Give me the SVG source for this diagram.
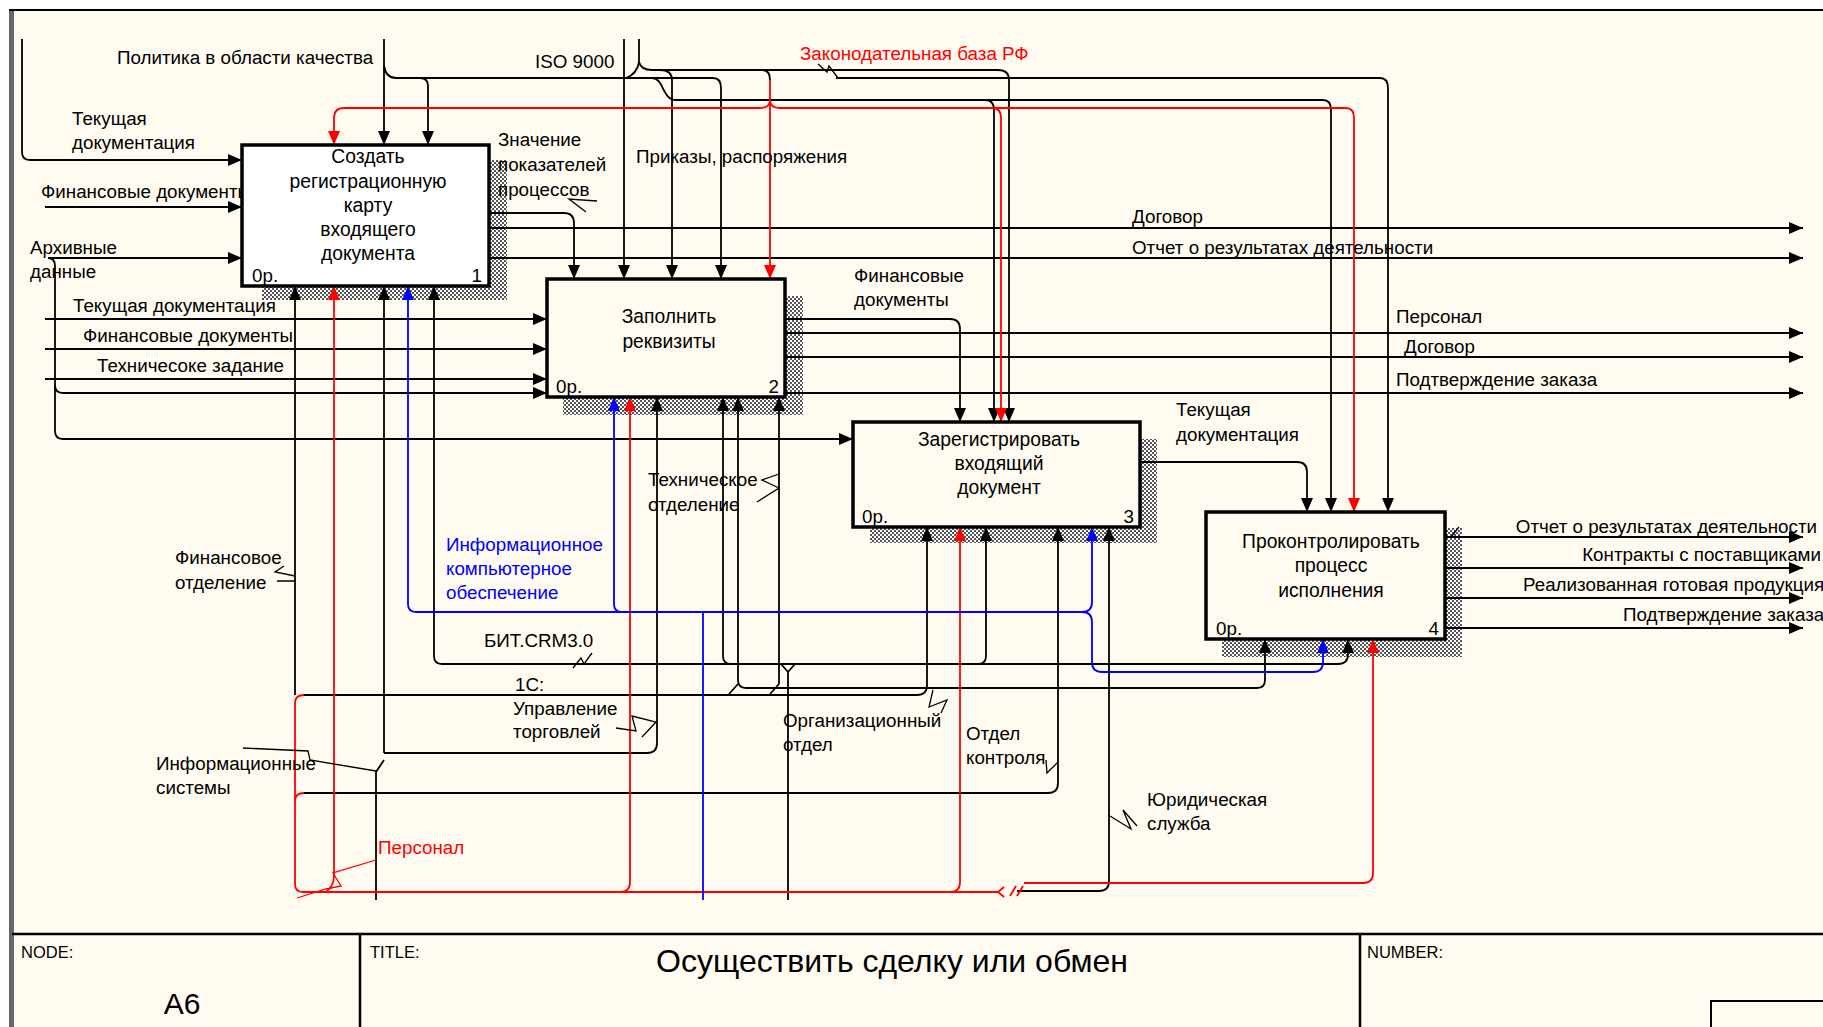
<svg xmlns="http://www.w3.org/2000/svg" width="1823" height="1027" viewBox="0 0 1823 1027">
<defs>
<style>
.l{fill:none;stroke:#000;stroke-width:1.8}
.r{stroke:#f00}
.u{stroke:#00f}
.s{fill:none;stroke:#000;stroke-width:1.3}
text{font-family:"Liberation Sans",Arial,sans-serif;font-size:18.8px;fill:#000}
.tr{fill:#f00}
.tu{fill:#00f}
.c{text-anchor:middle;font-size:19.3px}
.e{text-anchor:end}
.box{fill:#FFFBF0;stroke:#000;stroke-width:3.5}
.sh{fill:url(#hatch)}
.sm{font-size:16.5px}
</style>
<pattern id="hatch" width="4" height="4" patternUnits="userSpaceOnUse"><rect width="4" height="4" fill="#fff"/><rect width="2" height="2" fill="#555"/><rect x="2" y="2" width="2" height="2" fill="#555"/></pattern>
<marker id="ak" viewBox="0 0 14 12" refX="14" refY="6" markerWidth="14" markerHeight="12" markerUnits="userSpaceOnUse" orient="auto"><path d="M0,0L14,6L0,12z" fill="#000"/></marker>
<marker id="ar" viewBox="0 0 14 12" refX="14" refY="6" markerWidth="14" markerHeight="12" markerUnits="userSpaceOnUse" orient="auto"><path d="M0,0L14,6L0,12z" fill="#f00"/></marker>
<marker id="au" viewBox="0 0 14 12" refX="14" refY="6" markerWidth="14" markerHeight="12" markerUnits="userSpaceOnUse" orient="auto"><path d="M0,0L14,6L0,12z" fill="#00f"/></marker>
</defs>
<rect width="1823" height="1027" fill="#fff"/>
<rect x="12" y="10" width="1811" height="1017" fill="#FFFBF0"/>
<rect x="9" y="10" width="5" height="1017" fill="#666"/>
<line x1="9" y1="10" x2="1823" y2="10" stroke="#000" stroke-width="2"/>
<g id="title-block" fill="none" stroke="#000" stroke-width="2.5">
<line x1="12" y1="934" x2="1823" y2="934"/>
<line x1="360" y1="934" x2="360" y2="1027"/>
<line x1="1360" y1="934" x2="1360" y2="1027"/>
<path d="M1711,1027 V1001 H1823" stroke-width="2"/>
</g>
<text x="21" y="958" class="sm">NODE:</text>
<text x="370" y="958" class="sm">TITLE:</text>
<text x="1367" y="958" class="sm">NUMBER:</text>
<text x="182" y="1014" style="font-size:30px" text-anchor="middle">A6</text>
<text x="892" y="972" style="font-size:32px" text-anchor="middle">Осуществить сделку или обмен</text>

<g id="shadows">
<rect class="sh" x="489" y="160" width="18" height="140"/><rect class="sh" x="262" y="286" width="245" height="14"/>
<rect class="sh" x="785" y="296" width="18" height="119"/><rect class="sh" x="563" y="397" width="240" height="18"/>
<rect class="sh" x="1140" y="439" width="17" height="104"/><rect class="sh" x="870" y="527" width="287" height="16"/>
<rect class="sh" x="1445" y="528" width="17" height="129"/><rect class="sh" x="1222" y="639" width="240" height="18"/>
</g>

<g id="connectors">
<g class="l" marker-end="url(#ak)">
<path d="M22,39 V152 Q22,160 30,160 H242"/>
<path d="M45,207 H242"/>
<path d="M48,258 H242"/>
<path d="M48,258 Q55,258 55,266 V431 Q55,439 63,439 H853"/>
<path d="M55,385 Q55,393 63,393 H547"/>
<path d="M45,319 H547"/>
<path d="M45,349 H547"/>
<path d="M45,379 H547"/>
<path d="M384,39 V145"/>
<path d="M384,66 Q386,78 396,78 H713 Q721,78 721,88 V279"/>
<path d="M420,78 Q428,78 428,86 V145"/>
<path d="M624,39 V279"/>
<path d="M639,62 Q641,70 652,70 H998 Q1009,70 1009,80 V422"/>
<path d="M660,70 Q672,70 672,80 V279"/>
<path d="M652,78 C664,78 662,100 676,100 H1323 Q1331,100 1331,110 V512"/>
<path d="M985,100 Q994,100 994,110 V422"/>
<path d="M836,78 H1380 Q1388,78 1388,88 V512"/>
<path d="M489,213 H564 Q574,213 574,223 V279"/>
<path d="M489,228 H1803"/>
<path d="M489,258 H1803"/>
<path d="M785,319 H950 Q960,319 960,329 V422"/>
<path d="M785,333 H1803"/>
<path d="M785,357 H1803"/>
<path d="M785,393 H1803"/>
<path d="M1140,462 H1297 Q1307,462 1307,472 V512"/>
<path d="M1445,537 H1803"/>
<path d="M1445,568 H1803"/>
<path d="M1445,598 H1803"/>
<path d="M1445,628 H1803"/>
<path d="M295,695 V286"/>
<path d="M304,695 H917 Q927,695 927,685 V527"/>
<path d="M384,753 V286"/>
<path d="M384,753 H647 Q657,753 657,743 V397"/>
<path d="M442,664 Q434,664 434,656 V286"/>
<path d="M442,664 H1338 Q1348,664 1348,654 V639"/>
<path d="M731,664 Q723,664 723,656 V397"/>
<path d="M978,664 Q986,664 986,656 V527"/>
<path d="M746,688 Q738,688 738,680 V397"/>
<path d="M746,688 H1257 Q1265,688 1265,680 V639"/>
<path d="M779,684 V397"/>
<path d="M304,793 H1048 Q1058,793 1058,783 V527"/>
<path d="M1017,891 H1099 Q1109,891 1109,881 V527"/>
</g>
<g class="l">
<path d="M639,39 V62 Q637,74 626,78"/>
<path d="M762,70 Q770,70 770,80"/>
<path d="M376,900 V772 L384,760"/>
<path d="M788,900 V672 M781,664 L788,672 L795,664"/>
<path d="M738,684 L729,694 M779,684 L770,694"/>
</g>
<g class="l r" marker-end="url(#ar)">
<path d="M770,80 V279"/>
<path d="M770,100 Q770,108 760,108 H344 Q334,108 334,118 V145"/>
<path d="M770,100 Q770,108 780,108 H1346 Q1354,108 1354,118 V512"/>
<path d="M992,108 Q1001,108 1001,118 V422"/>
<path d="M326,892 Q334,886 334,876 V286"/>
<path d="M620,892 Q630,892 630,882 V397"/>
<path d="M950,892 Q960,892 960,882 V527"/>
<path d="M1024,883 H1363 Q1373,883 1373,873 V639"/>
</g>
<g class="l r">
<path d="M295,703 V884 Q295,892 303,892 H998"/>
<path d="M295,703 Q295,695 304,695 M295,801 Q295,793 304,793"/>
<path d="M1004,887 L998,892 L1004,897 M1010,896 L1016,886 M1017,896 L1023,886"/>
</g>
<g class="l u" marker-end="url(#au)">
<path d="M416,612 Q408,612 408,604 V286"/>
<path d="M622,612 Q614,612 614,604 V397"/>
<path d="M1082,612 Q1092,612 1092,602 V527"/>
<path d="M1082,612 Q1092,612 1092,622 V662 Q1092,672 1102,672 H1313 Q1323,672 1323,662 V639"/>
</g>
<g class="l u">
<path d="M416,612 H1082"/>
<path d="M703,900 V612"/>
</g>
<g class="s">
<path d="M818,64 L827,72 L829,66 L838,78"/>
<path d="M597,201 L569,199 L586,212"/>
<path d="M284,566 L275,572 L295,576 M277,581 L295,581"/>
<path d="M779,474 L762,480 L779,488 L757,502"/>
<path d="M573,668 L581,658 L584,664 L592,653"/>
<path d="M616,728 L636,731 L632,716 L656,722 L642,737"/>
<path d="M243,748 L308,751 L310,760 L376,771"/>
<path d="M933,690 L929,707 L947,700 L941,713"/>
<path d="M1046,760 L1047,773 L1058,762"/>
<path d="M1110,816 L1131,829 L1123,810 L1137,826"/>
<path d="M1451,537 L1459,527"/>
<path d="M376,860 L333,873 L341,886 L326,889 L297,898" stroke="#f00"/>
</g>
</g>

<g id="labels">
<text x="117" y="64">Политика в области качества</text>
<text x="535" y="68">ISO 9000</text>
<text x="800" y="60" class="tr">Законодательная база РФ</text>
<text x="72" y="125">Текущая</text>
<text x="72" y="149">документация</text>
<text x="41" y="198">Финансовые документы</text>
<text x="30" y="254">Архивные</text>
<text x="30" y="278">данные</text>
<text x="498" y="146">Значение</text>
<text x="498" y="171">показателей</text>
<text x="498" y="196">процессов</text>
<text x="636" y="163">Приказы, распоряжения</text>
<text x="1132" y="223">Договор</text>
<text x="1132" y="254">Отчет о результатах деятельности</text>
<text x="854" y="282">Финансовые</text>
<text x="854" y="306">документы</text>
<text x="1396" y="323">Персонал</text>
<text x="1404" y="353">Договор</text>
<text x="1396" y="386">Подтверждение заказа</text>
<text x="73" y="312">Текущая документация</text>
<text x="83" y="342">Финансовые документы</text>
<text x="97" y="372">Техничесоке задание</text>
<text x="1176" y="416">Текущая</text>
<text x="1176" y="441">документация</text>
<text x="1817" y="533" class="e">Отчет о результатах деятельности</text>
<text x="1821" y="561" class="e">Контракты с поставщиками</text>
<text x="1523" y="591">Реализованная готовая продукция</text>
<text x="1623" y="621">Подтверждение заказа</text>
<text x="648" y="486">Техническое</text>
<text x="648" y="511">отделение</text>
<text x="175" y="564">Финансовое</text>
<text x="175" y="589">отделение</text>
<text x="446" y="551" class="tu">Информационное</text>
<text x="446" y="575" class="tu">компьютерное</text>
<text x="446" y="599" class="tu">обеспечение</text>
<text x="484" y="647">БИТ.CRM3.0</text>
<text x="515" y="691">1С:</text>
<text x="513" y="715">Управление</text>
<text x="513" y="738">торговлей</text>
<text x="783" y="727">Организационный</text>
<text x="783" y="751">отдел</text>
<text x="966" y="740">Отдел</text>
<text x="966" y="764">контроля</text>
<text x="156" y="770">Информационные</text>
<text x="156" y="794">системы</text>
<text x="378" y="854" class="tr">Персонал</text>
<text x="1147" y="806">Юридическая</text>
<text x="1147" y="830">служба</text>
</g>

<g id="node1">
<rect class="box" x="242" y="145" width="247" height="141" style="fill:#fff"/>
<text x="368" y="163" class="c">Создать</text>
<text x="368" y="188" class="c">регистрационную</text>
<text x="368" y="212" class="c">карту</text>
<text x="368" y="236" class="c">входящего</text>
<text x="368" y="260" class="c">документа</text>
<text x="252" y="282">0р.</text>
<text x="482" y="282" class="e">1</text>
</g>
<g id="node2">
<rect class="box" x="547" y="279" width="238" height="118"/>
<text x="669" y="323" class="c">Заполнить</text>
<text x="669" y="348" class="c">реквизиты</text>
<text x="556" y="393">0р.</text>
<text x="779" y="393" class="e">2</text>
</g>
<g id="node3">
<rect class="box" x="853" y="422" width="287" height="105"/>
<text x="999" y="446" class="c">Зарегистрировать</text>
<text x="999" y="470" class="c">входящий</text>
<text x="999" y="494" class="c">документ</text>
<text x="862" y="523">0р.</text>
<text x="1134" y="523" class="e">3</text>
</g>
<g id="node4">
<rect class="box" x="1206" y="512" width="239" height="127"/>
<text x="1331" y="548" class="c">Проконтролировать</text>
<text x="1331" y="572" class="c">процесс</text>
<text x="1331" y="597" class="c">исполнения</text>
<text x="1216" y="635">0р.</text>
<text x="1439" y="635" class="e">4</text>
</g>
</svg>
